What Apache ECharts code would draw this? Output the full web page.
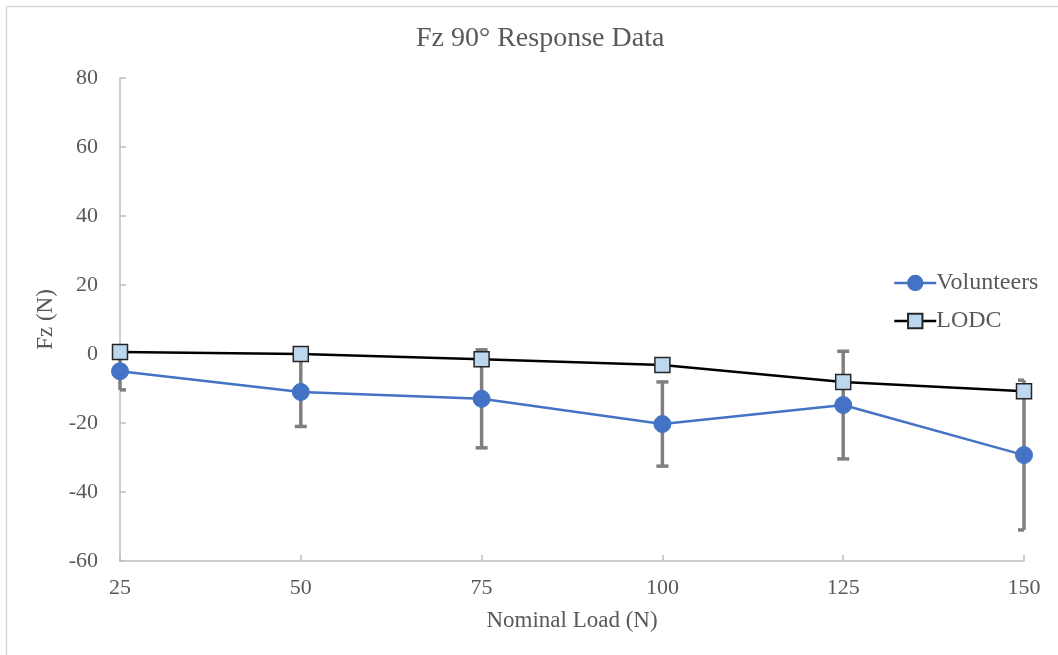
<!DOCTYPE html>
<html>
<head>
<meta charset="utf-8">
<script src="https://cdn.jsdelivr.net/npm/echarts@6/dist/echarts.min.js"></script>
<style>
html,body{margin:0;padding:0;background:#fff;}
#chart{width:1058px;height:655px;}
</style>
</head>
<body>
<div id="chart"></div>
<script>
var categories = ['25', '50', '75', '100', '125', '150'];
var volunteers = [-5.0, -11.0, -13.0, -20.3, -14.8, -29.3];
var volunteersSD = [5.4, 10.0, 14.2, 12.2, 15.6, 21.7];
var lodc = [0.6, 0.0, -1.5, -3.2, -8.1, -10.8];
var yTicks = {min: -60, max: 80, interval: 20};

var errData = volunteers.map(function (v, i) {
  return [i, v - volunteersSD[i], v + volunteersSD[i]];
});

var font = '"Liberation Serif", "Times New Roman", serif';
var txt = '#595959';

var chart = echarts.init(document.getElementById('chart'), null, {renderer: 'canvas'});
chart.setOption({
  animation: false,
  backgroundColor: '#fff',
  graphic: [{
    type: 'rect', left: 4, top: 4, z: -10,
    shape: {width: 1100, height: 700},
    style: {fill: 'none', stroke: '#d9d9d9', lineWidth: 1.5}
  }],
  title: {
    text: 'Fz 90° Response Data',
    left: 411, top: 20,
    textStyle: {fontFamily: font, fontSize: 28, fontWeight: 'normal', color: txt}
  },
  legend: {
    orient: 'vertical',
    left: 888, top: 266,
    itemWidth: 42, itemHeight: 18, itemGap: 14,
    lineStyle: {width: 2.5},
    textStyle: {fontFamily: font, fontSize: 24, color: txt, padding: [0, 0, 0, -5]},
    data: ['Volunteers', 'LODC']
  },
  grid: {left: 120, right: 34, top: 78, bottom: 94},
  xAxis: {
    type: 'category',
    data: categories,
    boundaryGap: false,
    name: 'Nominal Load (N)',
    nameLocation: 'middle',
    nameGap: 48,
    nameTextStyle: {fontFamily: font, fontSize: 23, color: txt},
    axisLine: {onZero: false, lineStyle: {color: '#bfbfbf', width: 1.5}},
    axisTick: {inside: true, length: 6, lineStyle: {color: '#bfbfbf', width: 1.5}},
    axisLabel: {fontFamily: font, fontSize: 22, color: txt, margin: 16},
    splitLine: {show: false}
  },
  yAxis: {
    type: 'value',
    min: yTicks.min, max: yTicks.max, interval: yTicks.interval,
    name: 'Fz (N)',
    nameLocation: 'middle',
    nameGap: 60,
    nameTextStyle: {fontFamily: font, fontSize: 23, color: txt},
    axisLine: {show: true, lineStyle: {color: '#bfbfbf', width: 1.5}},
    axisTick: {show: true, inside: true, length: 6, lineStyle: {color: '#bfbfbf', width: 1.5}},
    axisLabel: {fontFamily: font, fontSize: 22, color: txt, margin: 22},
    splitLine: {show: false}
  },
  series: [
    {
      name: 'errorbars',
      type: 'custom',
      z: 1,
      data: errData,
      renderItem: function (params, api) {
        var cs = params.coordSys;
        var x0 = cs.x, x1 = cs.x + cs.width;
        var lo = api.coord([api.value(0), api.value(1)]);
        var hi = api.coord([api.value(0), api.value(2)]);
        var half = 6;
        var clamp = function (x) { return Math.max(x0, Math.min(x1, x)); };
        var style = {stroke: '#7f7f7f', lineWidth: 3.5, fill: 'none'};
        return {
          type: 'group',
          children: [
            {type: 'line', shape: {x1: lo[0], y1: lo[1], x2: hi[0], y2: hi[1]}, style: style},
            {type: 'line', shape: {x1: clamp(lo[0] - half), y1: lo[1], x2: clamp(lo[0] + half), y2: lo[1]}, style: style},
            {type: 'line', shape: {x1: clamp(hi[0] - half), y1: hi[1], x2: clamp(hi[0] + half), y2: hi[1]}, style: style}
          ]
        };
      }
    },
    {
      name: 'Volunteers',
      type: 'line',
      z: 3,
      data: volunteers,
      symbol: 'circle',
      symbolSize: 17,
      lineStyle: {color: '#4472C4', width: 2.5},
      itemStyle: {color: '#4472C4', borderColor: '#4472C4', borderWidth: 1}
    },
    {
      name: 'LODC',
      type: 'line',
      z: 4,
      data: lodc,
      symbol: 'rect',
      symbolSize: 15,
      lineStyle: {color: '#000000', width: 2.5},
      itemStyle: {color: '#BDD7EE', borderColor: '#262626', borderWidth: 1.5}
    }
  ]
});
</script>
</body>
</html>
